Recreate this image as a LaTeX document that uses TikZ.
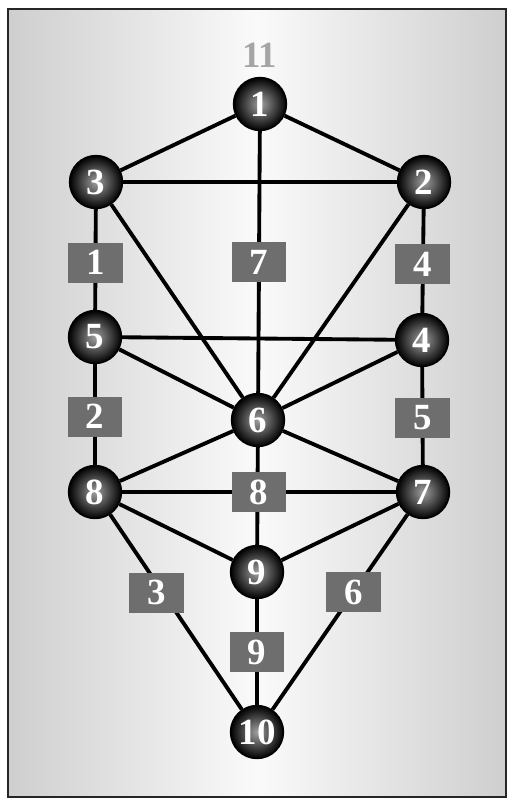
\documentclass[tikz,border=0pt]{standalone}
\usepackage{fontspec}
\setmainfont{Liberation Serif}
\usepackage{xcolor}
\definecolor{monGris}{RGB}{110,110,110}
\definecolor{monGrisClair}{RGB}{165,165,165}

\tikzset{
  sefira/.style={circle, minimum size=1.06cm, inner sep=0pt, draw=black, line width=0.8pt,
    inner color=gray!75, outer color=black, text=white,
    font=\fontsize{21}{21}\selectfont\bfseries},
  sentier/.style={rectangle, fill=monGris, minimum width=1.1cm, minimum height=0.8cm,
    inner sep=0pt, text=white, font=\fontsize{21}{21}\selectfont\bfseries},
  lien/.style={line width=2.2pt}
}

\begin{document}
\begin{tikzpicture}[x=0.02cm, y=-0.02cm]
        \useasboundingbox (0,0) rectangle (508,799);
        % Fond et cadre
        \fill[white] (0,0) rectangle (508,799);
        \shade[left color=gray!38, right color=gray!38, middle color=gray!4] (8,9) rectangle (506,797);
        \draw[gray!30!black, line width=1pt] (8,9) rectangle (506,797);

        % Sefirot
        \node[sefira] (s1) at (260,104) {1};
        \node[sefira] (s2) at (424,182) {2};
        \node[sefira] (s3) at (96,182) {3};
        \node[sefira] (s4) at (422,340) {4};
        \node[sefira] (s5) at (95,337) {5};
        \node[sefira] (s6) at (258,420) {6};
        \node[sefira] (s7) at (423,492) {7};
        \node[sefira] (s8) at (95,492) {8};
        \node[sefira] (s9) at (257,572) {9};
        \node[sefira] (s10) at (257,732) {10};
        \node[monGrisClair, font=\fontsize{21}{21}\selectfont\bfseries] (onze) at (260,55) {11};

        % Liens simples
        \draw[lien] (s1) -- (s3);
        \draw[lien] (s1) -- (s2);
        \draw[lien] (s3) -- (s2);
        \draw[lien] (s3) -- (s6);
        \draw[lien] (s2) -- (s6);
        \draw[lien] (s5) -- (s4);
        \draw[lien] (s5) -- (s6);
        \draw[lien] (s4) -- (s6);
        \draw[lien] (s6) -- (s8);
        \draw[lien] (s6) -- (s7);
        \draw[lien] (s6) -- (s9);
        \draw[lien] (s8) -- (s9);
        \draw[lien] (s7) -- (s9);

        % Liens avec sentiers
        \draw[lien] (s3) -- node[sentier, pos=.53] (p1) {1} (s5);
        \draw[lien] (s1) -- node[sentier, pos=.5] (p7) {7} (s6);
        \draw[lien] (s2) -- node[sentier, pos=.53] (p4) {4} (s4);
        \draw[lien] (s5) -- node[sentier, pos=.52] (p2) {2} (s8);
        \draw[lien] (s4) -- node[sentier, pos=.52] (p5) {5} (s7);
        \draw[lien] (s8) -- node[sentier, pos=.5] (p8) {8} (s7);
        \draw[lien] (s8) -- node[sentier, pos=.4, xshift=-0.12cm] (p3) {3} (s10);
        \draw[lien] (s7) -- node[sentier, pos=.4] (p6) {6} (s10);
        \draw[lien] (s9) -- node[sentier, pos=.5] (p9) {9} (s10);
    \end{tikzpicture}
\end{document}
